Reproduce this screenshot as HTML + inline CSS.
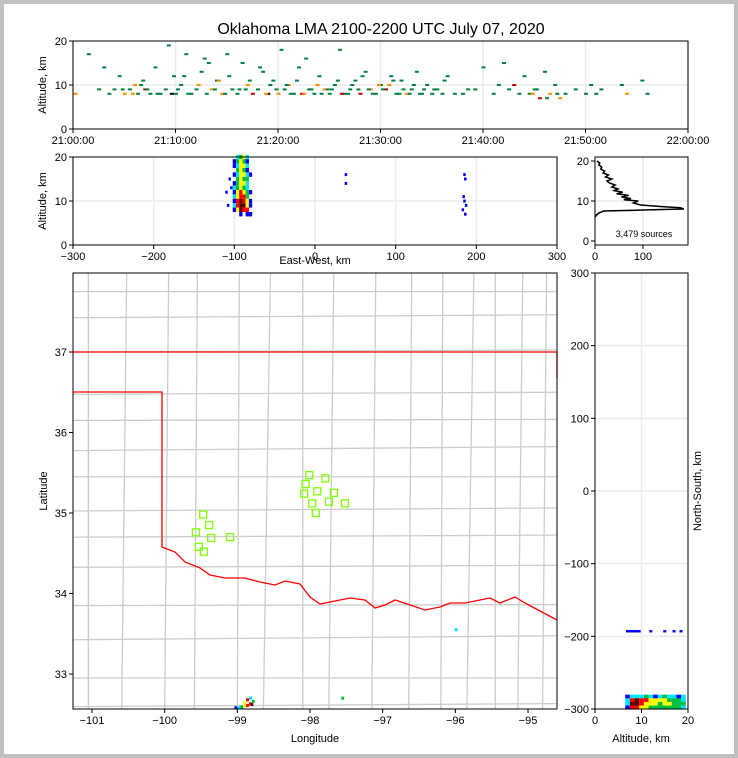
<!DOCTYPE html>
<html><head><meta charset="utf-8"><style>
html,body{margin:0;padding:0;background:#c0c0c0;}
#frame{position:absolute;left:4px;top:4px;width:730px;height:750px;background:#fff;}
svg{position:absolute;left:0;top:0;font-family:"Liberation Sans","DejaVu Sans",sans-serif;}
</style></head><body>
<div id="frame"></div>
<svg id="s" width="738" height="758" viewBox="0 0 738 758"></svg>
<script>
// ---------- data ----------
const timeTicks=["21:00:00","21:10:00","21:20:00","21:30:00","21:40:00","21:50:00","22:00:00"];
const tMin=[0.2,1.5,2.5,3,3.5,4,4.5,5,5.5,6,6.3,6.8,7,7.5,8,8.5,9,9.3,9.6,10,10.5,11,11.5,12,12.5,13,13.2,13.5,14,14.5,15,15.5,16,16.5,17,17.5,18,18.5,19,19.5,20,20.3,20.6,21,21.5,22,22.3,22.7,23,23.5,24,24.5,25,25.5,26,26.5,27,27.5,28,28.5,29,29.5,30,30.5,31,31.5,32,32.5,33,33.5,34,34.5,35,35.5,36,36.5,38,38.5,40,41,42,42.5,43,44,44.5,45,45.5,46,46.5,47,47.5,48,49,50,50.5,51,53.5,54,55.5,56,10.8,12.8,14.2,16.2,18.2,20.8,22.5,24.8,26.8,28.8,30.8,32.8,34.2,44.8,46.2,
4.8,5.8,6.6,7.2,8.2,9.8,10.2,11.2,12.2,13.8,14.8,15.2,16.8,17.2,18.8,19.2,19.8,21.2,21.8,23.2,23.8,24.2,25.2,25.8,26.2,27.2,27.8,28.2,29.2,29.8,30.2,31.2,31.8,32.2,33.2,33.8,35.2,36.2,37.2,39.2,41.5,43.5,45.2,47.2,51.5];
const tAlt=[8,17,9,14,8,9,12,8,9,10,8,11,9,8,14,8,9,19,8,8,10,17,8,9,13,8,15,9,11,8,17,9,8,15,10,8,9,13,8,11,8,18,9,10,8,14,8,16,9,8,12,9,8,10,18,8,9,11,8,13,9,8,10,9,12,8,11,8,9,13,8,10,8,9,8,12,8,9,14,8,15,9,10,12,8,9,7,13,8,10,7,8,9,8,10,8,10,8,11,8,12,16,11,9,14,10,8,9,8,9,10,8,9,8,7,
9,8,10,9,8,12,9,8,10,9,8,12,9,11,8,10,9,8,11,9,10,8,9,11,8,10,9,12,8,10,9,11,8,9,10,8,9,11,8,9,10,8,9,8,9];
const tCol=[1,0,0,0,0,0,0,1,0,1,0,0,2,0,0,0,0,0,3,0,0,0,0,0,0,0,0,1,0,1,0,0,0,0,1,2,0,0,3,0,1,0,0,1,0,0,2,0,0,0,0,1,0,0,0,0,0,0,2,0,1,0,0,2,0,0,0,1,0,0,0,0,0,0,0,0,0,0,0,0,0,0,2,0,0,0,2,0,1,0,1,0,0,0,0,0,0,1,0,0,0,0,1,0,0,0,1,0,0,0,1,0,0,1,0,
0,1,0,0,0,0,0,0,1,0,0,0,0,0,1,0,0,0,0,0,1,0,0,0,2,0,0,0,0,1,0,0,0,0,0,0,0,0,0,0,0,0,0,0,0];
const ewX=[-100,-96,-92,-88,-84,-80];
const ewAlt=[20,19,18,17,16,15,14,13,12,11,10,9,8,7];
const ewDens=[
[0,2,3,4,2,0],[1,3,4,3,1,0],[1,2,4,4,2,0],[0,3,4,3,1,0],[1,2,4,4,2,1],[0,3,4,3,3,0],[1,3,4,4,2,0],[2,3,4,3,2,0],[1,4,5,4,3,1],[2,4,5,5,3,0],[1,5,6,5,4,1],[2,5,6,6,4,1],[1,4,6,5,5,0],[0,0,1,0,1,1]];
const ewExtraX=[-110,-108,-104,-106,38,38,185,186,184,185,183,186,187];
const ewExtraAlt=[12,9,13,15,14,16,16,15,11,10,8,7,9];
const histAlt=[6,6.5,7,7.5,7.8,8,8.3,8.6,9,9.5,10,10.3,10.6,11,11.4,11.8,12.2,12.6,13,13.5,14,14.5,15,15.5,16,16.5,17,17.5,18,18.5,19,19.5,20];
const histCnt=[0,3,8,18,120,185,178,140,95,80,90,60,75,55,70,45,58,40,48,35,42,30,25,35,22,28,17,20,12,14,8,10,4];
const nsAlt=[7,8,9,10,11,12,13,14,15,16,17,18,19];
const nsY=[-283,-288,-293,-298];
const nsDens=[[1,2,2,2,3,2,1,2,3,2,2,1,2],[2,5,6,5,5,4,4,4,4,3,3,3,2],[2,6,6,5,4,4,4,3,4,4,3,3,3],[1,5,5,4,4,3,3,3,3,3,3,3,2]];
const nsLineAlt=[7,7.5,8,8.5,9,9.5,12,15,17,18.5];
const stLon=[-99.47,-99.39,-99.57,-99.36,-99.53,-99.46,-99.10,-98.01,-97.79,-98.06,-97.90,-98.08,-97.67,-97.97,-97.74,-97.52,-97.92];
const stLat=[34.98,34.85,34.76,34.69,34.58,34.52,34.70,35.47,35.43,35.36,35.27,35.24,35.25,35.12,35.14,35.12,35.00];
const mapSrcLon=[-99.02,-98.98,-98.94,-98.9,-98.86,-98.82,-98.78,-98.9,-98.86,-98.82,-98.8,-95.99,-97.55];
const mapSrcLat=[32.58,32.58,32.59,32.6,32.61,32.63,32.66,32.64,32.68,32.7,32.62,33.55,32.7];
const mapSrcC=[1,2,3,4,5,5,3,4,5,2,6,2,3];
const densColors=["#fff","#0000ff","#00e5ff","#00c040","#ffff00","#ff0000","#600000"];
const topColors=["#008040","#ff8c00","#c00000","#000000"];
// ---------- scales ----------
const tx=m=>73+m*615/60, ty=a=>129-a*4.4;
const ex=v=>73+(v+300)*484/600, ey=a=>245-a*4.4;
const hx=c=>595+c*0.48, hy=a=>241-a*4;
const nx=a=>595+a*93/20, ny=v=>491-v*0.7267;
const mx=l=>92+(l+101)*72.67, my=l=>352+(37-l)*80.5;
const S=document.getElementById('s');
function mk(tag,attrs,parent){const e=document.createElementNS('http://www.w3.org/2000/svg',tag);for(const k in attrs)e.setAttribute(k,attrs[k]);(parent||S).appendChild(e);return e;}
function txt(x,y,s,size,anchor,parent){const e=mk('text',{x:x,y:y,'font-size':size,'text-anchor':anchor||'middle',fill:'#000'},parent);e.textContent=s;return e;}
let el;
el=txt(381,34,"Oklahoma LMA 2100-2200 UTC July 07, 2020",16);

function gridV(x,y0,y1){el=mk('line',{x1:x,x2:x,y1:y0,y2:y1,stroke:'#ebebeb','stroke-width':1.5});}
function gridH(y,x0,x1){el=mk('line',{x1:x0,x2:x1,y1:y,y2:y,stroke:'#ebebeb','stroke-width':1.5});}
function tickB(x,y,label){el=mk('line',{x1:x,x2:x,y1:y,y2:y+4,stroke:'#000'});el=txt(x,y+15,label,11);}
function tickL(x,y,label){el=mk('line',{x1:x-4,x2:x,y1:y,y2:y,stroke:'#000'});el=txt(x-6,y+4,label,11,'end');}
function frame(x0,y0,x1,y1,name){el=mk('rect',{x:x0,y:y0,width:x1-x0,height:y1-y0,fill:'none',stroke:'#000','stroke-width':1});}
function ylab(x,y,s){el=txt(0,0,s,11);el.setAttribute('transform','translate('+x+','+y+') rotate(-90)');}
// ---------- top panel ----------
timeTicks.forEach((t,i)=>{gridV(tx(i*10),41,129);});
gridH(ty(10),73,688);
tMin.forEach((m,i)=>{el=mk('rect',{x:tx(m)-1.5,y:ty(tAlt[i])-1,width:4,height:2,fill:topColors[tCol[i]]});});
frame(73,41,688,129,'time-height-panel');
timeTicks.forEach((t,i)=>tickB(tx(i*10),129,t));
[0,10,20].forEach(a=>tickL(73,ty(a),a));
ylab(46,85,"Altitude, km");
// ---------- east-west panel ----------
[-300,-200,-100,0,100,200,300].forEach(v=>gridV(ex(v),157,245));
gridH(ey(10),73,557);
ewDens.forEach((row,r)=>row.forEach((d,c)=>{if(d>0){el=mk('rect',{x:ex(ewX[c])-1.6,y:ey(ewAlt[r])-2.2,width:3.3,height:4.4,fill:densColors[d]});}}));
ewExtraX.forEach((v,i)=>{el=mk('rect',{x:ex(v)-1,y:ey(ewExtraAlt[i])-1.5,width:2.5,height:3,fill:'#0000ff'});});
frame(73,157,557,245,'east-west-panel');
[-300,-200,-100,0,100,200,300].forEach(v=>tickB(ex(v),245,v===0?'0':String(v).replace('-','−')));
[0,10,20].forEach(a=>tickL(73,ey(a),a));
ylab(46,201,"Altitude, km");
el=txt(315,264,"East-West, km",11);
// ---------- histogram ----------
gridV(hx(100),157,245);gridH(hy(10),595,688);
el=mk('polyline',{points:histAlt.map((a,i)=>hx(histCnt[i])+','+hy(a)).join(' '),fill:'none',stroke:'#000','stroke-width':1.5});

frame(595,157,688,245,'altitude-histogram-panel');
[0,100].forEach(c=>tickB(hx(c),245,c));
[0,10,20].forEach(a=>tickL(595,hy(a),a));
el=txt(644,237,"3,479 sources",9);
// ---------- map ----------
const mapG=mk('g',{});

const vLons=[-101.05,-100.55,-100.0,-99.55,-99.0,-98.6,-98.1,-97.7,-97.15,-96.6,-96.2,-95.8,-95.45,-95.1,-94.8];
vLons.forEach((l,i)=>{el=mk('line',{x1:mx(l)+(i%3)*2,x2:mx(l)-(i%2)*3,y1:273,y2:709,stroke:'#cccccc','stroke-width':1.3},mapG);});
const hLats=[37.75,37.45,37.0,36.5,36.15,35.8,35.45,35.05,34.7,34.35,33.85,33.45,32.95,32.62];
hLats.forEach((l,i)=>{el=mk('line',{x1:73,x2:557,y1:my(l)+(i%2)*2,y2:my(l)-(i%3),stroke:'#cccccc','stroke-width':1.3},mapG);});
const okPts=[[73,392],[162,392],[162,547],[175,552],[185,562],[200,568],[210,575],[225,578],[245,578],[260,582],[275,585],[285,581],[300,584],[310,597],[320,604],[335,601],[350,598],[365,600],[375,608],[385,605],[395,600],[410,605],[425,610],[440,607],[450,603],[465,603],[480,600],[490,598],[500,603],[515,597],[525,603],[540,611],[557,620]];
el=mk('polyline',{points:okPts.map(p=>p.join(',')).join(' '),fill:'none',stroke:'#ff0000','stroke-width':1.3});

el=mk('polyline',{points:'73,352 557,352 557,378',fill:'none',stroke:'#ff0000','stroke-width':1.3});

stLon.forEach((l,i)=>{el=mk('rect',{x:mx(l)-3.5,y:my(stLat[i])-3.5,width:7,height:7,fill:'none',stroke:'#7fff00','stroke-width':1.3});});
mapSrcLon.forEach((l,i)=>{el=mk('rect',{x:mx(l)-1.5,y:my(mapSrcLat[i])-1.5,width:3,height:3,fill:densColors[mapSrcC[i]]});});
frame(73,273,557,709,'plan-view-map');
[-101,-100,-99,-98,-97,-96,-95].forEach(l=>tickB(mx(l),709,String(l).replace('-','−')));
[33,34,35,36,37].forEach(l=>tickL(73,my(l),l));
el=txt(315,742,"Longitude",11);
ylab(47,491,"Latitude");
// ---------- north-south panel ----------
gridV(nx(10),273,709);[-200,-100,0,100,200].forEach(v=>gridH(ny(v),595,688));
nsDens.forEach((row,r)=>row.forEach((d,c)=>{el=mk('rect',{x:nx(nsAlt[c])-2.3,y:ny(nsY[r])-2,width:4.7,height:4,fill:densColors[d]});}));
nsLineAlt.forEach(a=>{el=mk('rect',{x:nx(a)-1.5,y:ny(-193)-1.2,width:3,height:2.4,fill:'#0000ff'});});
frame(595,273,688,709,'north-south-panel');
[0,10,20].forEach(a=>tickB(nx(a),709,a));
[-300,-200,-100,0,100,200,300].forEach(v=>tickL(595,ny(v),v===0?'0':String(v).replace('-','−')));
el=txt(641,742,"Altitude, km",11);
ylab(701,491,"North-South, km");
</script>
</body></html>
